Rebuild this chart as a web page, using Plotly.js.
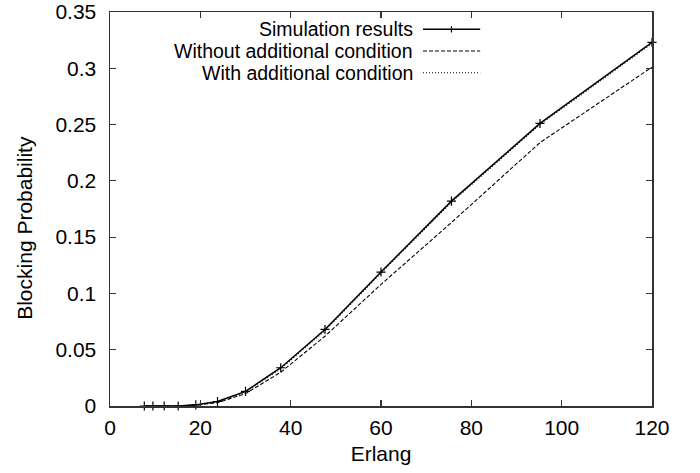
<!DOCTYPE html>
<html>
<head>
<meta charset="utf-8">
<script src="https://cdn.plot.ly/plotly-3.0.1.min.js"></script>
<style>html,body{margin:0;padding:0;background:#fff;}#chart{width:700px;height:473px;}</style>
</head>
<body>
<div id="chart"></div>
<script>
// ---- data ----
const erlang = [7.6, 9.5, 12, 15.1, 19, 23.8, 30, 37.8, 47.6, 60, 75.6, 95.2, 120];
const simulation = [0, 0, 0, 0, 0.001, 0.004, 0.013, 0.034, 0.068, 0.119, 0.182, 0.251, 0.323];
const withoutCond = [0, 0, 0, 0, 0.0008, 0.003, 0.011, 0.030, 0.062, 0.108, 0.163, 0.234, 0.301];
const withCond = [0, 0, 0, 0, 0.001, 0.004, 0.0125, 0.033, 0.067, 0.118, 0.181, 0.250, 0.322];
const seriesNames = ["Simulation results", "Without additional condition", "With additional condition"];
const xTicks = [0, 20, 40, 60, 80, 100, 120];
const yTicks = [0, 0.05, 0.1, 0.15, 0.2, 0.25, 0.3, 0.35];
const yTickText = ["0", "0.05", "0.1", "0.15", "0.2", "0.25", "0.3", "0.35"];

const FONT = "Liberation Sans, Arial, Helvetica, sans-serif";
const FS = 21;
const LFS = 19.5;

const traces = [
  {x: erlang, y: withoutCond, mode: "lines", name: seriesNames[1],
   line: {color: "#000", width: 1.1, dash: "4px,2px"}},
  {x: erlang, y: withCond, mode: "lines", name: seriesNames[2],
   line: {color: "#000", width: 1.1, dash: "1px,2px"}},
  {x: erlang, y: simulation, mode: "lines+markers", name: seriesNames[0],
   line: {color: "#000", width: 1.5},
   marker: {symbol: "cross-thin-open", size: 6.5, line: {color: "#000", width: 1.2}},
   cliponaxis: false}
];

// custom gnuplot-style legend (text right, sample left)
const legRowsY = [0.956, 0.901, 0.846];
const legDash = ["solid", "4px,2px", "1px,2px"];
const shapes = [];
const annotations = [];
for (let i = 0; i < 3; i++) {
  annotations.push({xref: "paper", yref: "paper", x: 0.561, y: legRowsY[i],
    xanchor: "right", yanchor: "middle", showarrow: false, text: seriesNames[i],
    borderpad: 0,
    font: {family: FONT, size: LFS, color: "#000"}});
  shapes.push({type: "line", xref: "paper", yref: "paper", x0: 0.5775, x1: 0.683,
    y0: legRowsY[i], y1: legRowsY[i],
    line: {color: "#000", width: i === 0 ? 1.5 : 1.1, dash: legDash[i]}});
}
shapes.push({type: "line", xref: "paper", yref: "paper", x0: 0.630, x1: 0.630,
  y0: legRowsY[0] - 0.008, y1: legRowsY[0] + 0.008, line: {color: "#000", width: 1.2}});

annotations.push({xref: "paper", yref: "paper", x: -0.157, y: 0.452, textangle: -90,
  xanchor: "center", yanchor: "middle", showarrow: false, text: "Blocking Probability",
  font: {family: FONT, size: FS, color: "#000"}});

const axisCommon = {
  showgrid: false, zeroline: false, showline: true, linecolor: "#333", linewidth: 1.5,
  mirror: "ticks", ticks: "inside", ticklen: 6, tickwidth: 1.2, tickcolor: "#333",
  tickfont: {family: FONT, size: FS, color: "#000"}
};

const layout = {
  width: 700, height: 473,
  margin: {l: 110, r: 48, t: 12, b: 67},
  paper_bgcolor: "#fff", plot_bgcolor: "#fff",
  showlegend: false,
  xaxis: Object.assign({}, axisCommon, {range: [0, 120], tickmode: "array", tickvals: xTicks,
    ticklabelstandoff: 2,
    title: {text: "Erlang", font: {family: FONT, size: FS, color: "#000"}, standoff: 8}}),
  yaxis: Object.assign({}, axisCommon, {range: [0, 0.35], tickmode: "array", tickvals: yTicks,
    ticktext: yTickText, ticklabelstandoff: 8}),
  shapes: shapes,
  annotations: annotations
};

Plotly.newPlot("chart", traces, layout, {displayModeBar: false, staticPlot: true});
</script>
</body>
</html>
